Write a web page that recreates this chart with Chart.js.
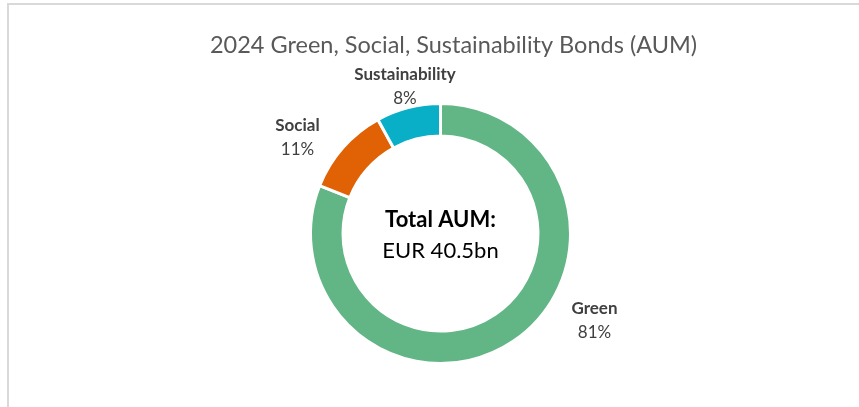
<!DOCTYPE html>
<html>
<head>
<meta charset="utf-8">
<script src="https://cdn.jsdelivr.net/npm/chart.js@4/dist/chart.umd.min.js"></script>
<style>
  html, body { margin: 0; padding: 0; background: #fff; overflow: hidden; }
  #frame {
    position: absolute; left: 7px; top: 3px; width: 900px; height: 420px;
    border: 2px solid #d9d9d9; box-sizing: border-box;
  }
  #wrap { position: absolute; left: 0; top: 0; width: 859px; height: 407px; }
</style>
</head>
<body>
<div id="frame"></div>
<div id="wrap"><canvas id="aumChart"></canvas></div>
<script>
const categories = ['Green', 'Social', 'Sustainability'];
const shares = [81, 11, 8];
const titleText = '2024 Green, Social, Sustainability Bonds (AUM)';
const centerLines = ['Total AUM:', 'EUR 40.5bn'];

const sliceColors = ['#62B585', '#E06205', '#08AFC7'];
// label offsets from the doughnut centre: [dx, name baseline dy, value baseline dy]
const labelOffsets = [[154, 80.5, 104.5], [-143, -102.5, -78.5], [-35.5, -153.5, -129.5]];

const textPlugin = {
  id: 'textPlugin',
  afterDraw(chart) {
    const ctx = chart.ctx;
    const area = chart.chartArea;
    const cx = (area.left + area.right) / 2;
    const cy = (area.top + area.bottom) / 2;
    ctx.save();
    ctx.textAlign = 'center';
    ctx.textBaseline = 'alphabetic';

    ctx.fillStyle = '#595959';
    ctx.font = '23.5px Lato';
    ctx.fillText(titleText, 453.5, 53);

    categories.forEach((name, i) => {
      const [dx, dy1, dy2] = labelOffsets[i];
      ctx.fillStyle = '#404040';
      ctx.font = 'bold 17px Lato';
      ctx.fillText(name, cx + dx, cy + dy1);
      ctx.font = '17px Lato';
      ctx.fillText(shares[i] + '%', cx + dx, cy + dy2);
    });

    ctx.fillStyle = '#000';
    ctx.font = 'bold 22px Lato';
    ctx.fillText(centerLines[0], cx, cy - 6.5);
    ctx.font = '22px Lato';
    ctx.fillText(centerLines[1], cx, cy + 24.5);
    ctx.restore();
  }
};

document.addEventListener('DOMContentLoaded', () => {
  const ctx = document.getElementById('aumChart').getContext('2d');
  new Chart(ctx, {
    type: 'doughnut',
    data: {
      labels: categories,
      datasets: [{
        data: shares,
        backgroundColor: sliceColors,
        borderColor: '#ffffff',
        borderWidth: 3,
      }],
    },
    options: {
      responsive: true,
      maintainAspectRatio: false,
      animation: false,
      cutout: '75%',
      layout: {
        padding: { left: 309, right: 287, top: 102, bottom: 42 },
      },
      plugins: {
        legend: { display: false },
        tooltip: { enabled: false },
        title: { display: false },
      },
    },
    plugins: [textPlugin],
  });
});
</script>
</body>
</html>
